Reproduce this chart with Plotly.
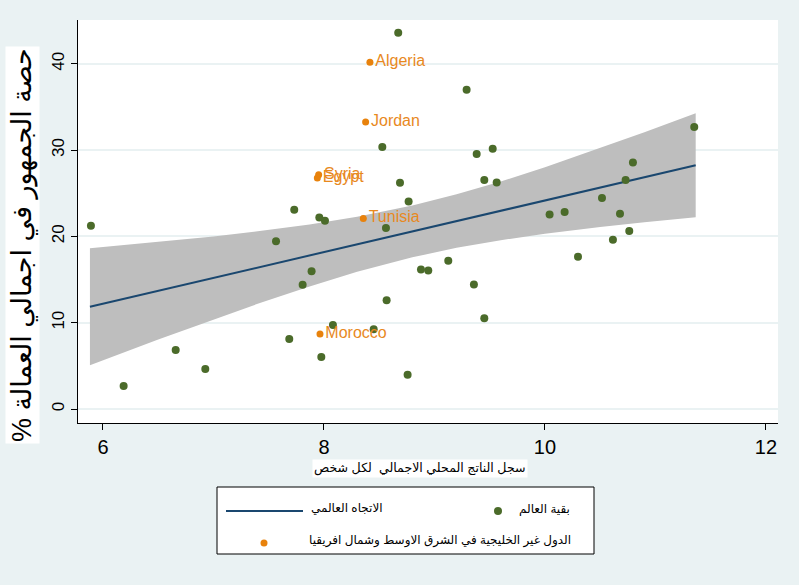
import plotly.graph_objects as go

# ---------------- data ----------------
world_x = [8.672, 8.528, 8.688, 8.766, 5.891, 7.731, 7.958, 8.009, 8.561, 7.566,
           8.878, 8.944, 7.888, 7.807, 8.567, 8.081, 8.450, 7.686, 6.658, 7.976,
           6.926, 8.757, 6.187, 9.291, 9.382, 9.527, 9.451, 9.563, 11.351, 10.796,
           10.730, 10.516, 10.042, 10.178, 10.679, 10.763, 10.615, 10.299, 9.125, 9.357,
           9.451]
world_y = [43.6, 30.36, 26.2, 24.05, 21.23, 23.09, 22.2, 21.8, 20.96, 19.45,
           16.16, 16.04, 15.97, 14.39, 12.61, 9.74, 9.24, 8.12, 6.84, 6.03,
           4.64, 3.98, 2.67, 37.0, 29.54, 30.16, 26.53, 26.25, 32.68, 28.57,
           26.53, 24.44, 22.54, 22.82, 22.62, 20.61, 19.6, 17.63, 17.17, 14.42,
           10.52]

mena_names = ["Algeria", "Jordan", "Syria", "Egypt", "Tunisia", "Morocco"]
mena_x = [8.416, 8.377, 7.952, 7.940, 8.356, 7.964]
mena_y = [40.17, 33.26, 27.15, 26.76, 22.08, 8.70]

fit_x = [5.882, 11.364]
fit_y = [11.85, 28.24]

band_x = [5.882, 6.5, 7.0, 7.4, 7.87, 8.3, 8.8, 9.2, 9.6, 10.0, 10.5, 10.9, 11.364]
band_lo = [5.08, 8.05, 10.38, 12.19, 14.2, 15.89, 17.57, 18.67, 19.56, 20.30, 21.09, 21.63, 22.21]
band_hi = [18.62, 19.35, 20.0, 20.59, 21.38, 22.27, 23.57, 24.87, 26.36, 28.02, 30.23, 32.07, 34.27]

x_ticks = [6, 8, 10, 12]
y_ticks = [0, 10, 20, 30, 40]

x_title = "سجل الناتج المحلي الاجمالي  لكل شخص"
y_title = "حصة الجمهور في اجمالي العمالة %"
leg_trend = "الاتجاه العالمي"
leg_world = "بقية العالم"
leg_mena = "الدول غير الخليجية في الشرق الاوسط وشمال افريقيا"

RLM = "\u200f"  # keeps the trailing % on the right-to-left side

# ---------------- style ----------------
BG = "#eaf2f3"
GREEN = "#4b6b2a"
ORANGE = "#e8820c"
ORANGE_TXT = "#e8891e"
NAVY = "#1a476f"
BAND = "#bebebe"
FONT = "Liberation Sans, Arial, DejaVu Sans, sans-serif"

W, H = 799, 585
L, R, T, B = 78, 778, 20, 423  # plot area in pixels


def px(xp):
    return (xp - L) / (R - L)


def py(yp):
    return (B - yp) / (B - T)


fig = go.Figure()

fig.add_trace(go.Scatter(
    x=band_x + band_x[::-1], y=band_hi + band_lo[::-1],
    fill="toself", fillcolor=BAND, line=dict(width=0), mode="lines",
    hoverinfo="skip", showlegend=False))

fig.add_trace(go.Scatter(
    x=fit_x, y=fit_y, mode="lines", line=dict(color=NAVY, width=2),
    showlegend=False))

fig.add_trace(go.Scatter(
    x=world_x, y=world_y, mode="markers",
    marker=dict(color=GREEN, size=8), showlegend=False))

fig.add_trace(go.Scatter(
    x=mena_x, y=mena_y, mode="markers+text", text=mena_names,
    textposition="middle right",
    textfont=dict(color=ORANGE_TXT, size=16, family=FONT),
    marker=dict(color=ORANGE, size=7), showlegend=False))

fig.update_layout(
    width=W, height=H,
    margin=dict(l=L, r=W - R, t=T, b=H - B, pad=0),
    paper_bgcolor=BG, plot_bgcolor="white",
    font=dict(family=FONT, color="black"),
    showlegend=False,
    xaxis=dict(range=[5.774, 12.109], tickvals=x_ticks, ticks="outside",
               ticklen=6, tickcolor="black", showgrid=False, zeroline=False,
               showline=True, linecolor="black", linewidth=1,
               tickfont=dict(size=20, color="black")),
    yaxis=dict(range=[-1.62, 45.07], tickvals=y_ticks, ticks="outside",
               ticklen=6, tickcolor="black", showgrid=True, gridcolor=BG,
               gridwidth=2, zeroline=False, showline=True, linecolor="black",
               linewidth=1, tickangle=-90, tickfont=dict(size=17, color="black")),
)

# axis titles
fig.add_annotation(xref="paper", yref="paper", x=px(22), y=py(245),
                   text=y_title + RLM, textangle=-90, showarrow=False,
                   font=dict(size=27, color="black"), bgcolor="white",
                   xanchor="center", yanchor="middle")
fig.add_annotation(xref="paper", yref="paper", x=px(420), y=py(468),
                   text=x_title, showarrow=False,
                   font=dict(size=12.6, color="black"), bgcolor="white",
                   xanchor="center", yanchor="middle")

# legend (drawn manually)
fig.add_shape(type="rect", xref="paper", yref="paper",
              x0=px(217), x1=px(594), y0=py(554), y1=py(487),
              fillcolor="white", line=dict(color="black", width=1))
fig.add_shape(type="line", xref="paper", yref="paper",
              x0=px(226), x1=px(303), y0=py(511), y1=py(511),
              line=dict(color=NAVY, width=2))
fig.add_shape(type="circle", xref="paper", yref="paper",
              x0=px(494), x1=px(502), y0=py(515), y1=py(507),
              fillcolor=GREEN, line=dict(width=0))
fig.add_shape(type="circle", xref="paper", yref="paper",
              x0=px(260.5), x1=px(267.5), y0=py(546.5), y1=py(539.5),
              fillcolor=ORANGE, line=dict(width=0))
fig.add_annotation(xref="paper", yref="paper", x=px(385), y=py(508),
                   text=leg_trend, showarrow=False, xanchor="right",
                   yanchor="middle", font=dict(size=12, color="black"))
fig.add_annotation(xref="paper", yref="paper", x=px(572), y=py(509),
                   text=leg_world, showarrow=False, xanchor="right",
                   yanchor="middle", font=dict(size=12, color="black"))
fig.add_annotation(xref="paper", yref="paper", x=px(573), y=py(540),
                   text=leg_mena, showarrow=False, xanchor="right",
                   yanchor="middle", font=dict(size=12, color="black"))

fig.write_html("out.html")
